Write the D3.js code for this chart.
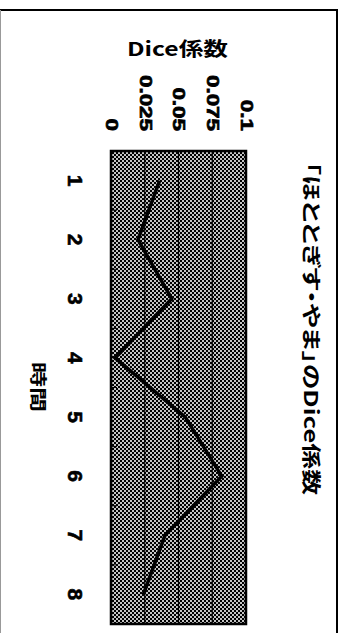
<!DOCTYPE html>
<html>
<head>
<meta charset="utf-8">
<script src="https://cdn.jsdelivr.net/npm/d3@7"></script>
<style>
  html, body { margin: 0; padding: 0; background: #fff; }
  svg { display: block; }
  .cjk { font-feature-settings: "palt"; }
</style>
</head>
<body>
<svg id="chart" width="347" height="633"></svg>
<script>
// Time periods (category axis) and the Dice coefficient at each period
const categories = ["1", "2", "3", "4", "5", "6", "7", "8"];
const diceValues = [0.036, 0.020, 0.045, 0.003, 0.055, 0.082, 0.040, 0.024];
const valueTicks = [0, 0.025, 0.05, 0.075, 0.1];
const valueTickLabels = ["0", "0.025", "0.05", "0.075", "0.1"];

const chartTitle = "「ほととぎす・やま」のDice係数";
const valueAxisTitle = "Dice係数";
const categoryAxisTitle = "時間";

const svg = d3.select("#chart");

// Plot area (the chart is laid out turned a quarter turn clockwise:
// categories run down the page, values run left to right)
const plot = { left: 111, right: 246, top: 151, bottom: 624 };

const x = d3.scaleLinear().domain([0, 0.1]).range([plot.left, plot.right]);
const y = d3.scaleBand().domain(categories).range([plot.top, plot.bottom]).paddingInner(0).paddingOuter(0);

// Outer frame
svg.append("line").attr("x1", 0).attr("x2", 338).attr("y1", 10).attr("y2", 10)
  .attr("stroke", "#000").attr("stroke-width", 2);
svg.append("line").attr("x1", 337).attr("x2", 337).attr("y1", 10).attr("y2", 633)
  .attr("stroke", "#000").attr("stroke-width", 2);
svg.append("line").attr("x1", 0.5).attr("x2", 0.5).attr("y1", 10).attr("y2", 633)
  .attr("stroke", "#999").attr("stroke-width", 1);

// Dithered grey fill of the plot area
const defs = svg.append("defs");
const pat = defs.append("pattern").attr("id", "dither")
  .attr("patternUnits", "userSpaceOnUse").attr("width", 4).attr("height", 4);
pat.append("rect").attr("width", 4).attr("height", 4).attr("fill", "#c4c4c4");
pat.append("rect").attr("x", 0).attr("y", 0).attr("width", 2).attr("height", 2).attr("fill", "#000");
pat.append("rect").attr("x", 2).attr("y", 2).attr("width", 2).attr("height", 2).attr("fill", "#000");

svg.append("rect")
  .attr("x", plot.left).attr("y", plot.top)
  .attr("width", plot.right - plot.left).attr("height", plot.bottom - plot.top)
  .attr("fill", "url(#dither)");

// Gridlines
svg.append("g").selectAll("line")
  .data(valueTicks.slice(1, -1))
  .join("line")
  .attr("x1", d => x(d)).attr("x2", d => x(d))
  .attr("y1", plot.top).attr("y2", plot.bottom)
  .attr("stroke", "#000").attr("stroke-width", 1.2);

// Category tick marks on the value-zero edge
const boundaries = categories.slice(1).map(c => y(c));
svg.append("g").selectAll("line")
  .data(boundaries)
  .join("line")
  .attr("x1", plot.left).attr("x2", plot.left + 6)
  .attr("y1", d => d).attr("y2", d => d)
  .attr("stroke", "#000").attr("stroke-width", 1);

// Plot border
svg.append("rect")
  .attr("x", plot.left).attr("y", plot.top)
  .attr("width", plot.right - plot.left).attr("height", plot.bottom - plot.top)
  .attr("fill", "none").attr("stroke", "#000").attr("stroke-width", 2.5);

// Data line
const line = d3.line()
  .x(d => x(d.v))
  .y(d => y(d.c) + y.bandwidth() / 2);
svg.append("path")
  .datum(categories.map((c, i) => ({ c, v: diceValues[i] })))
  .attr("d", line)
  .attr("fill", "none").attr("stroke", "#000").attr("stroke-width", 3.5)
  .attr("stroke-linejoin", "miter");

// Value axis (along the top), labels turned to read downward
const valueAxis = d3.axisTop(x)
  .tickValues(valueTicks)
  .tickFormat((d, i) => valueTickLabels[i])
  .tickSize(0).tickPadding(0);
const gv = svg.append("g").attr("transform", `translate(0,${plot.top})`).call(valueAxis);
gv.select(".domain").remove();
gv.selectAll("text")
  .attr("x", null).attr("y", null).attr("dy", "0.35em")
  .attr("text-anchor", "end")
  .attr("transform", "translate(0,-20) rotate(90) scale(1.4,1)")
  .attr("font-family", "'Liberation Sans', Arial, sans-serif")
  .attr("font-weight", "bold").attr("font-size", 16).attr("fill", "#000")
  .attr("stroke", "#000").attr("stroke-width", 0.7);

// Category axis (along the left), labels turned to read downward
const catAxis = d3.axisLeft(y).tickSize(0).tickPadding(0);
const gc = svg.append("g").attr("transform", `translate(${plot.left},0)`).call(catAxis);
gc.select(".domain").remove();
gc.selectAll("text")
  .attr("x", null).attr("y", null).attr("dy", "0.35em")
  .attr("text-anchor", "middle")
  .attr("transform", "translate(-36,0) rotate(90)")
  .attr("font-family", "'Liberation Sans', Arial, sans-serif")
  .attr("font-weight", "bold").attr("font-size", 21).attr("fill", "#000")
  .attr("stroke", "#000").attr("stroke-width", 0.6);

const cjk = "'Noto Sans CJK JP', 'Noto Sans', sans-serif";

// Chart title
svg.append("text").attr("class", "cjk")
  .attr("transform", "translate(311,328.5) rotate(90)")
  .attr("text-anchor", "middle").attr("dy", "0.38em")
  .attr("textLength", 333).attr("lengthAdjust", "spacingAndGlyphs")
  .attr("font-family", cjk).attr("font-weight", "bold").attr("font-size", 19)
  .text(chartTitle);

// Value axis title
svg.append("text").attr("class", "cjk")
  .attr("x", 177.5).attr("y", 48.5)
  .attr("text-anchor", "middle").attr("dy", "0.38em")
  .attr("textLength", 101).attr("lengthAdjust", "spacingAndGlyphs")
  .attr("font-family", cjk).attr("font-weight", "bold").attr("font-size", 19)
  .text(valueAxisTitle);

// Category axis title
svg.append("text").attr("class", "cjk")
  .attr("transform", "translate(38,387) rotate(90)")
  .attr("text-anchor", "middle").attr("dy", "0.38em")
  .attr("textLength", 50).attr("lengthAdjust", "spacingAndGlyphs")
  .attr("font-family", cjk).attr("font-weight", "bold").attr("font-size", 17)
  .text(categoryAxisTitle);
</script>
</body>
</html>
